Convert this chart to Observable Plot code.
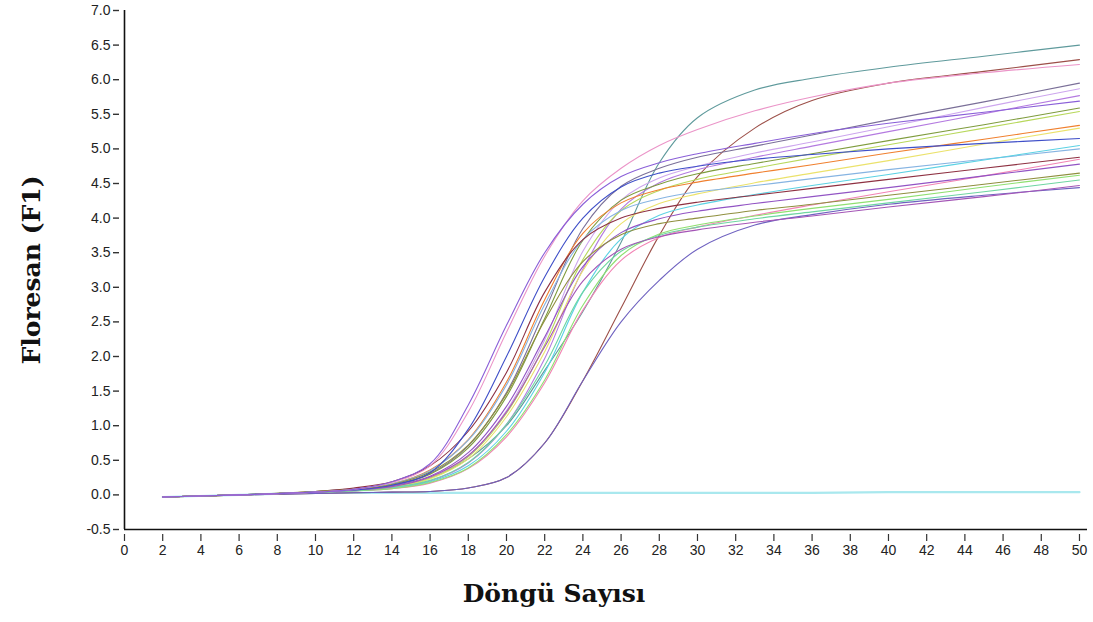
<!DOCTYPE html>
<html>
<head>
<meta charset="utf-8">
<script src="https://cdn.jsdelivr.net/npm/d3@7"></script>
<script src="https://cdn.jsdelivr.net/npm/@observablehq/plot@0.6"></script>
<style>
  html, body { margin: 0; padding: 0; background: #fff; }
  #chart { width: 1093px; height: 622px; }
</style>
</head>
<body>
<div id="chart"></div>
<script>
// Cycle numbers at which the curves were read
const cycles = [2, 6, 10, 12, 14, 16, 18, 20, 22, 24, 26, 28, 30, 33, 36, 40, 45, 50];

// Fluorescence (F1), one array per well
const negControl = [-0.03, 0.00, 0.03, 0.03, 0.03, 0.03, 0.03, 0.03, 0.03, 0.03, 0.03, 0.03, 0.03, 0.03, 0.03, 0.04, 0.04, 0.04];
const tealHigh   = [-0.03, 0.00, 0.03, 0.06, 0.10, 0.24, 0.52, 1.00, 1.80, 2.65, 3.65, 4.80, 5.45, 5.85, 6.02, 6.18, 6.34, 6.50];
const brownLate  = [-0.03, 0.00, 0.02, 0.03, 0.04, 0.05, 0.10, 0.25, 0.75, 1.65, 2.70, 3.75, 4.60, 5.30, 5.70, 5.95, 6.12, 6.29];
const purpleLate = [-0.03, 0.00, 0.02, 0.03, 0.04, 0.05, 0.10, 0.25, 0.75, 1.65, 2.50, 3.10, 3.55, 3.90, 4.05, 4.20, 4.33, 4.44];
const greyPurple = [-0.03, 0.00, 0.04, 0.08, 0.14, 0.31, 0.71, 1.48, 2.66, 3.85, 4.46, 4.72, 4.88, 5.04, 5.20, 5.42, 5.68, 5.95];
const lavender   = [-0.03, 0.00, 0.04, 0.07, 0.12, 0.25, 0.56, 1.22, 2.24, 3.52, 4.26, 4.58, 4.75, 4.94, 5.10, 5.32, 5.60, 5.87];
const lightViolet= [-0.03, 0.00, 0.04, 0.06, 0.10, 0.20, 0.46, 1.02, 1.97, 3.26, 4.13, 4.51, 4.70, 4.88, 5.04, 5.25, 5.51, 5.77];
const olive      = [-0.03, 0.00, 0.04, 0.08, 0.14, 0.30, 0.68, 1.42, 2.55, 3.68, 4.26, 4.49, 4.64, 4.79, 4.93, 5.12, 5.35, 5.59];
const yellowGreen= [-0.03, 0.00, 0.04, 0.07, 0.12, 0.24, 0.55, 1.18, 2.17, 3.40, 4.11, 4.40, 4.56, 4.72, 4.87, 5.06, 5.30, 5.54];
const orange     = [-0.03, 0.00, 0.05, 0.09, 0.16, 0.36, 0.80, 1.63, 2.82, 3.78, 4.22, 4.41, 4.52, 4.65, 4.77, 4.94, 5.14, 5.34];
const lightYellow= [-0.03, 0.00, 0.04, 0.07, 0.11, 0.23, 0.52, 1.13, 2.07, 3.24, 3.92, 4.21, 4.35, 4.51, 4.65, 4.83, 5.07, 5.30];
const lightBlue  = [-0.03, 0.00, 0.05, 0.09, 0.16, 0.35, 0.79, 1.59, 2.75, 3.69, 4.11, 4.28, 4.38, 4.47, 4.57, 4.70, 4.85, 5.00];
const cyan       = [-0.03, 0.00, 0.04, 0.06, 0.10, 0.19, 0.42, 0.92, 1.77, 2.93, 3.70, 4.04, 4.19, 4.34, 4.47, 4.63, 4.84, 5.05];
const maroon     = [-0.03, 0.00, 0.05, 0.10, 0.19, 0.42, 0.92, 1.77, 2.93, 3.69, 4.00, 4.14, 4.23, 4.33, 4.43, 4.56, 4.72, 4.88];
const pink       = [-0.03, 0.00, 0.04, 0.06, 0.09, 0.17, 0.38, 0.84, 1.62, 2.67, 3.39, 3.72, 3.87, 4.04, 4.19, 4.38, 4.61, 4.85];
const purple     = [-0.03, 0.00, 0.04, 0.07, 0.13, 0.27, 0.61, 1.28, 2.28, 3.30, 3.79, 3.99, 4.10, 4.21, 4.31, 4.44, 4.61, 4.78];
const khaki      = [-0.03, 0.00, 0.05, 0.08, 0.15, 0.33, 0.72, 1.46, 2.52, 3.37, 3.76, 3.92, 4.00, 4.11, 4.20, 4.33, 4.49, 4.65];
const lightGreen = [-0.03, 0.00, 0.04, 0.06, 0.09, 0.18, 0.39, 0.87, 1.66, 2.74, 3.46, 3.77, 3.90, 4.03, 4.14, 4.27, 4.45, 4.62];
const mint       = [-0.03, 0.00, 0.04, 0.06, 0.11, 0.21, 0.47, 1.02, 1.87, 2.93, 3.52, 3.75, 3.87, 3.99, 4.09, 4.22, 4.38, 4.55];
const plum       = [-0.03, 0.00, 0.04, 0.07, 0.12, 0.26, 0.57, 1.20, 2.14, 3.09, 3.55, 3.73, 3.83, 3.94, 4.03, 4.16, 4.31, 4.47];
const blueEarly  = [-0.03, 0.00, 0.04, 0.07, 0.14, 0.32, 0.95, 2.00, 3.15, 4.00, 4.45, 4.65, 4.75, 4.85, 4.92, 5.00, 5.08, 5.15];
const pinkEarly  = [-0.03, 0.00, 0.04, 0.08, 0.18, 0.42, 1.20, 2.35, 3.45, 4.25, 4.72, 5.05, 5.28, 5.55, 5.75, 5.95, 6.10, 6.22];
const violetEarly= [-0.03, 0.00, 0.04, 0.08, 0.19, 0.45, 1.30, 2.45, 3.50, 4.20, 4.60, 4.80, 4.93, 5.08, 5.22, 5.37, 5.53, 5.69];

// Well names and their line colours, in drawing order
const wells  = ["NK", "W01", "W02", "W03", "W04", "W05", "W06", "W07", "W08", "W09", "W10", "W11", "W12", "W13", "W14", "W15", "W16", "W17", "W18", "W19", "W20", "W21", "W22"];
const colors = ["#a9e8ee", "#5f9a9c", "#9c4f48", "#6f62c0", "#7a6f98", "#cda6ee", "#b47ae0", "#7f9c3e", "#b8d85c", "#f0802f", "#ebe26c", "#86b4e2", "#5cd2e4", "#8e3142", "#f283b4", "#9254c4", "#8f8f3e", "#8fe070", "#6fd6a2", "#a455b6", "#3f4fc8", "#eb94c8", "#8a5fd8"];
const valueArrays = [negControl, tealHigh, brownLate, purpleLate, greyPurple, lavender, lightViolet, olive, yellowGreen, orange, lightYellow, lightBlue, cyan, maroon, pink, purple, khaki, lightGreen, mint, plum, blueEarly, pinkEarly, violetEarly];

// Tick values
const xTicks = d3.range(0, 51, 2);
const yTicks = d3.range(-0.5, 7.01, 0.5);

const table = [];
valueArrays.forEach((vals, i) => {
  vals.forEach((v, j) => table.push({well: wells[i], color: colors[i], cycle: cycles[j], value: v}));
});

const chart = Plot.plot({
  width: 1093,
  height: 622,
  marginLeft: 124,
  marginRight: 6,
  marginTop: 10,
  marginBottom: 93,
  style: {fontFamily: "'Liberation Sans', Arial, sans-serif", fontSize: "14px", color: "#222", background: "#fff"},
  x: {domain: [0, 50.42]},
  y: {domain: [-0.5, 7.0]},
  color: {type: "identity"},
  marks: [
    Plot.line(table.filter(d => d.well === "NK"), {x: "cycle", y: "value", stroke: "color", strokeWidth: 2.2, curve: "catmull-rom"}),
    Plot.line(table.filter(d => d.well !== "NK"), {x: "cycle", y: "value", z: "well", stroke: "color", strokeWidth: 1.1, curve: "catmull-rom"}),
    Plot.ruleY([-0.5], {stroke: "#111", strokeWidth: 1.6}),
    Plot.ruleX([0], {stroke: "#111", strokeWidth: 1.6}),
    Plot.axisX({ticks: xTicks, tickFormat: d => String(d), tickSize: 7, tickPadding: 4, dy: 5, label: null, stroke: "#333", strokeWidth: 1.2, fontSize: 14}),
    Plot.axisY({ticks: yTicks, tickFormat: d => d.toFixed(1), tickSize: 6, tickPadding: 3, dx: -5, label: null, stroke: "#333", strokeWidth: 1.4, fontSize: 14}),
    Plot.text(["Döngü Sayısı"], {frameAnchor: "bottom", textAnchor: "middle", dx: -52, dy: 72, fontFamily: "'DejaVu Serif', serif", fontWeight: "bold", fontSize: 25, fill: "#111"}),
    Plot.text(["Floresan (F1)"], {frameAnchor: "left", textAnchor: "middle", dx: -93, rotate: -90, fontFamily: "'DejaVu Serif', serif", fontWeight: "bold", fontSize: 25, fill: "#111"})
  ]
});
document.getElementById("chart").appendChild(chart);
</script>
</body>
</html>
